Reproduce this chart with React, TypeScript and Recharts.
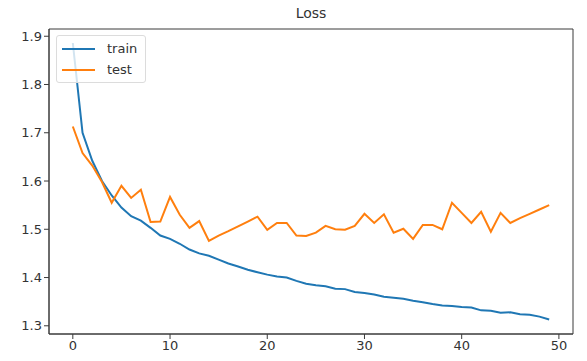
import { LineChart, Line, XAxis, YAxis, ReferenceArea } from 'recharts'

const epochs = Array.from({ length: 50 }, (_, i) => i)

const trainLoss = [
  1.886, 1.700, 1.642, 1.600, 1.570, 1.545, 1.527, 1.518, 1.503, 1.487,
  1.480, 1.470, 1.458, 1.450, 1.445, 1.437, 1.429, 1.423, 1.416, 1.411,
  1.406, 1.402, 1.400, 1.393, 1.387, 1.384, 1.382, 1.377, 1.376, 1.370,
  1.368, 1.365, 1.360, 1.358, 1.356, 1.352, 1.349, 1.345, 1.342, 1.341,
  1.339, 1.338, 1.332, 1.331, 1.327, 1.328, 1.324, 1.323, 1.319, 1.313,
]

const testLoss = [
  1.713, 1.658, 1.632, 1.598, 1.555, 1.590, 1.565, 1.582, 1.515, 1.516,
  1.567, 1.530, 1.503, 1.517, 1.476, 1.487, 1.496, 1.506, 1.516, 1.526,
  1.499, 1.513, 1.513, 1.487, 1.486, 1.493, 1.507, 1.500, 1.499, 1.507,
  1.532, 1.513, 1.531, 1.493, 1.501, 1.480, 1.509, 1.509, 1.500, 1.555,
  1.534, 1.513, 1.536, 1.495, 1.534, 1.513, 1.523, 1.532, 1.541, 1.550,
]

const xTicks = [0, 10, 20, 30, 40, 50]
const yTicks = [1.3, 1.4, 1.5, 1.6, 1.7, 1.8, 1.9]
const seriesNames = ['train', 'test']
const seriesColors = ['#1f77b4', '#ff7f0e']

const data = epochs.map((e, i) => ({ epoch: e, train: trainLoss[i], test: testLoss[i] }))

const X_DOMAIN: [number, number] = [-2.45, 51.45]
const Y_DOMAIN: [number, number] = [1.283, 1.915]
const FONT = '"DejaVu Sans", sans-serif'
const AXIS = '#3a3a3a'

function LossLegend() {
  return (
    <div
      style={{
        position: 'absolute',
        top: 35,
        left: 56,
        background: 'rgba(255,255,255,0.8)',
        border: '1px solid #dcdcdc',
        borderRadius: 3,
        padding: '2px 8px 2px 5px',
        fontFamily: FONT,
        fontSize: 13,
        color: '#333',
      }}
    >
      {seriesNames.map((name, i) => (
        <div key={name} style={{ display: 'flex', alignItems: 'center', height: 21 }}>
          <span style={{ display: 'inline-block', width: 33, height: 2, background: seriesColors[i], marginRight: 12 }} />
          {name}
        </div>
      ))}
    </div>
  )
}

export default function App() {
  return (
    <div style={{ margin: -8, width: 587, height: 361, background: '#fff', position: 'relative' }}>
      <div
        style={{
          position: 'absolute',
          top: 5,
          left: 0,
          width: 622,
          textAlign: 'center',
          fontFamily: FONT,
          fontSize: 14,
          color: '#333',
        }}
      >
        Loss
      </div>
      <LineChart width={587} height={361} data={data} margin={{ top: 29, right: 14, bottom: 0, left: 0 }}>
        <XAxis
          dataKey="epoch"
          type="number"
          domain={X_DOMAIN}
          ticks={xTicks}
          allowDataOverflow
          height={27}
          stroke={AXIS}
          tickSize={5}
          tick={{ fill: '#333', fontSize: 13, fontFamily: FONT }}
        />
        <YAxis
          type="number"
          domain={Y_DOMAIN}
          ticks={yTicks}
          allowDataOverflow
          width={49}
          stroke={AXIS}
          tickSize={5}
          tick={{ fill: '#333', fontSize: 13, fontFamily: FONT }}
        />
        <ReferenceArea
          x1={X_DOMAIN[0]}
          x2={X_DOMAIN[1]}
          y1={Y_DOMAIN[0]}
          y2={Y_DOMAIN[1]}
          fill="none"
          stroke={AXIS}
          strokeWidth={1}
        />
        <Line
          type="linear"
          dataKey="train"
          stroke={seriesColors[0]}
          strokeWidth={2}
          dot={false}
          isAnimationActive={false}
        />
        <Line
          type="linear"
          dataKey="test"
          stroke={seriesColors[1]}
          strokeWidth={2}
          dot={false}
          isAnimationActive={false}
        />
      </LineChart>
      <LossLegend />
    </div>
  )
}
